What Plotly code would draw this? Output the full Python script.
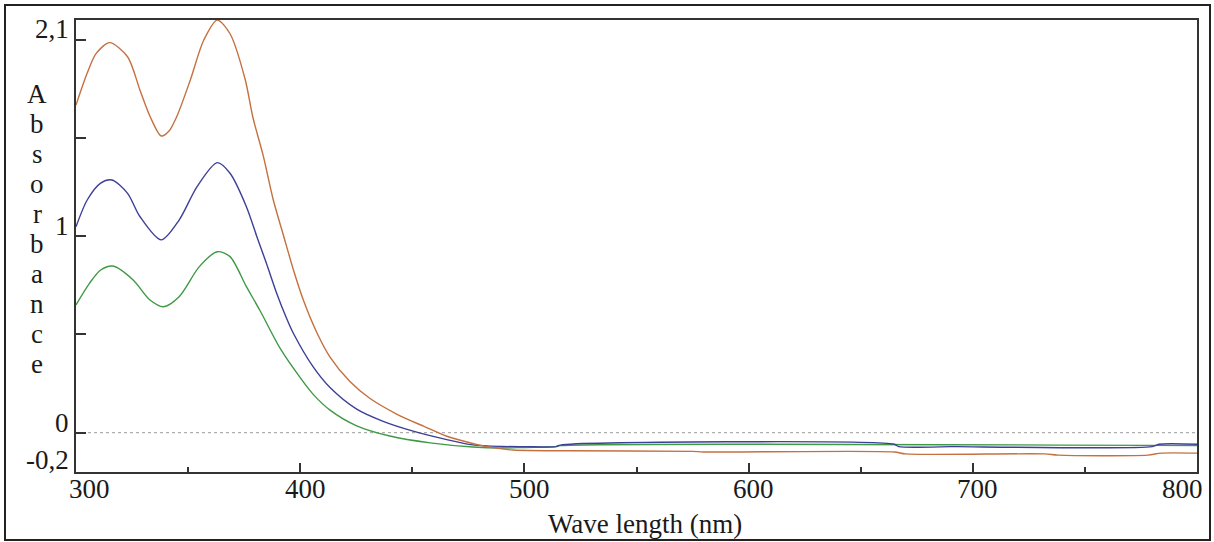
import plotly.graph_objects as go

# ---------------- data ----------------
wl_orange = [300, 305, 309, 315, 323, 328.5, 333, 338, 341.5, 345, 351, 357, 363, 368.7, 375.4, 379,
             383.5, 388, 392.5, 397, 401.4, 407.4, 413.3, 422.2, 431, 443, 455, 465.4, 475.7, 485, 495,
             520, 575, 580, 665, 670, 732, 738, 778, 784, 800]
abs_orange = [1.667, 1.83, 1.93, 1.985, 1.913, 1.744, 1.61, 1.51, 1.535, 1.61, 1.795, 1.998, 2.10, 2.03,
              1.80, 1.60, 1.41, 1.184, 1.005, 0.828, 0.675, 0.51, 0.385, 0.26, 0.175, 0.095, 0.033,
              -0.018, -0.051, -0.075, -0.088, -0.092, -0.095, -0.098, -0.098, -0.108, -0.108, -0.114,
              -0.114, -0.104, -0.104]

wl_blue = [300, 305, 311, 316, 323, 328.5, 338, 346, 354, 363, 368.7, 376, 380.6, 385, 389.5, 394,
           397, 405.8, 413.3, 425.2, 437, 450.4, 465.4, 477, 490, 500, 514, 516, 665, 667, 690, 693,
           780, 783, 800]
abs_blue = [1.048, 1.184, 1.27, 1.286, 1.218, 1.10, 0.981, 1.082, 1.252, 1.374, 1.32, 1.15, 1.0, 0.86,
            0.71, 0.58, 0.505, 0.335, 0.23, 0.12, 0.058, 0.008, -0.035, -0.062, -0.07, -0.071, -0.071,
            -0.063, -0.059, -0.071, -0.071, -0.071, -0.071, -0.059, -0.059]

wl_green = [300, 306, 311, 316.5, 325.5, 333, 339, 346, 355, 363, 368.7, 376, 382, 391, 400, 405.8,
            413.3, 425.2, 440, 458, 477, 490, 500, 514, 516, 800]
abs_green = [0.65, 0.76, 0.828, 0.848, 0.777, 0.675, 0.641, 0.692, 0.845, 0.921, 0.896, 0.743, 0.623,
             0.43, 0.28, 0.195, 0.115, 0.035, -0.017, -0.052, -0.073, -0.078, -0.075, -0.071, -0.066,
             -0.066]

x_tickvals = [300, 400, 500, 600, 700, 800]
x_ticktext = ["300", "400", "500", "600", "700", "800"]
y_tickvals = [0, 0.5, 1, 1.5, 2]
y_labelvals = [2.1, 1, 0, -0.2]
y_labeltext = ["2,1", "1", "0", "-0,2"]
y_title_letters = list("Absorbance")

# ---------------- figure ----------------
FONT = "Liberation Serif"
FS = 27
TXT = "#1a1a1a"
W, H = 1214, 542
L, R, T, B = 76, 17, 20, 70
pw, ph = W - L - R, H - T - B

fig = go.Figure()
for xs, ys, col in [(wl_green, abs_green, "#3f9a45"),
                    (wl_blue, abs_blue, "#3d3f98"),
                    (wl_orange, abs_orange, "#c4703f")]:
    fig.add_trace(go.Scatter(x=xs, y=ys, mode="lines",
                             line=dict(color=col, width=1.4, shape="spline", smoothing=0.8),
                             showlegend=False, hoverinfo="skip"))

fig.update_layout(
    width=W, height=H,
    margin=dict(l=L, r=R, t=T, b=B),
    paper_bgcolor="white", plot_bgcolor="white",
    font=dict(family=FONT, size=FS, color=TXT),
    showlegend=False,
)
fig.update_xaxes(
    range=[300, 800], tickvals=x_tickvals, showticklabels=False, ticks="inside", ticklen=9,
    tickwidth=2, tickcolor="#333", showline=True, linecolor="#333", linewidth=2, mirror=True,
    showgrid=False, zeroline=False,
    minor=dict(dtick=50, ticks="inside", ticklen=5, tickwidth=2, tickcolor="#333", showgrid=False),
)
fig.update_yaxes(
    range=[-0.2, 2.1], tickvals=y_tickvals, showticklabels=False, ticks="inside", ticklen=10,
    tickwidth=2, tickcolor="#333", showline=True, linecolor="#333", linewidth=2, mirror=True,
    showgrid=False, zeroline=False,
)

# dotted zero line
fig.add_shape(type="line", xref="paper", yref="y", x0=0, x1=1, y0=0, y1=0,
              line=dict(color="#9a9a9a", width=1, dash="dot"), layer="below")

# outer frame around the whole picture
fig.add_shape(type="rect", xref="paper", yref="paper",
              x0=(5 - L) / pw, x1=(1210 - L) / pw, y0=(T + ph - 540) / ph, y1=(T + ph - 5) / ph,
              line=dict(color="#222", width=2))

# x tick labels (kept inside the frame at both ends, as in the original)
xlab_y = (T + ph - 489) / ph
for v, t in zip(x_tickvals, x_ticktext):
    if v == x_tickvals[0]:
        anchor, shift = "left", -9
    elif v == x_tickvals[-1]:
        anchor, shift = "right", 8
    else:
        anchor, shift = "center", 5
    fig.add_annotation(text=t, xref="x", yref="paper", x=v, y=xlab_y, xanchor=anchor,
                       yanchor="middle", xshift=shift, showarrow=False,
                       font=dict(family=FONT, size=FS, color=TXT))

# y tick labels (sit just above their ticks; top one sits below the frame)
for v, t in zip(y_labelvals, y_labeltext):
    shift = -9 if v == y_labelvals[0] else (12 if v == y_labelvals[-1] else 10)
    fig.add_annotation(text=t, xref="paper", yref="y", x=(71 - L) / pw, y=v, xanchor="right",
                       yanchor="middle", yshift=shift, showarrow=False,
                       font=dict(family=FONT, size=FS, color=TXT))

# x axis title
fig.add_annotation(text="Wave length (nm)", xref="paper", yref="paper", x=(645 - L) / pw,
                   y=(T + ph - 524) / ph, xanchor="center", yanchor="middle", showarrow=False,
                   font=dict(family=FONT, size=FS, color=TXT))

# vertical stacked y title
for i, ch in enumerate(y_title_letters):
    ypx = 94 + 30 * i
    fig.add_annotation(text=ch, xref="paper", yref="paper",
                       x=(37 - L) / pw, y=(T + ph - ypx) / ph,
                       xanchor="center", yanchor="middle", showarrow=False,
                       font=dict(family=FONT, size=FS, color=TXT))

fig.write_html("out.html")
